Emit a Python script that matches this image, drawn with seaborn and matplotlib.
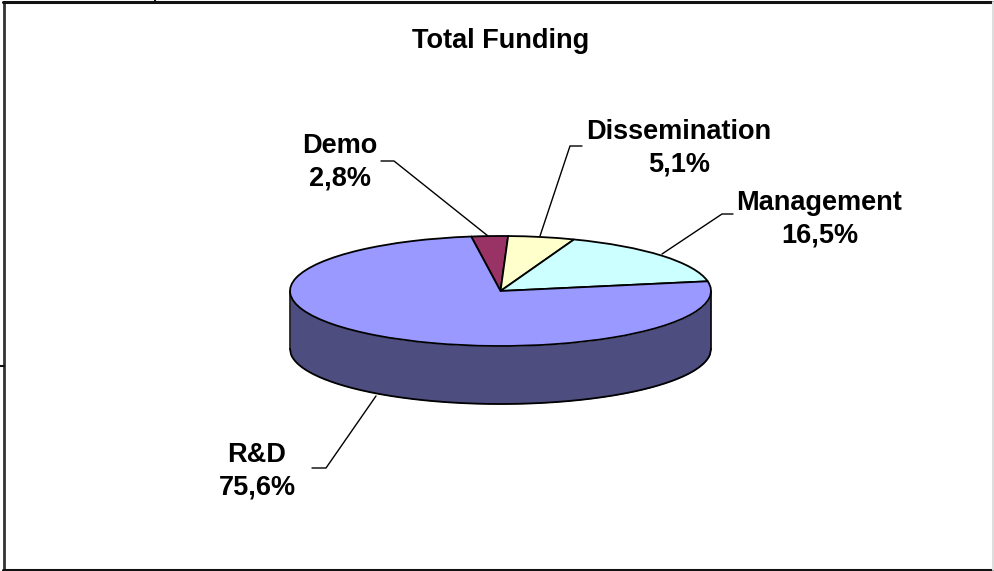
import numpy as np
import matplotlib
matplotlib.use('Agg')
import matplotlib.pyplot as plt
import seaborn as sns

categories = ['Demo', 'Dissemination', 'Management', 'R&D']
values = [2.8, 5.1, 16.5, 75.6]
value_labels = ['2,8%', '5,1%', '16,5%', '75,6%']
colors = ['#993366', '#FFFFCC', '#CCFFFF', '#9999FF']
side_color = '#4D4D80'
title = 'Total Funding'

sns.set_theme(style='white')
plt.rcParams['font.family'] = ['Liberation Sans', 'DejaVu Sans']

W, H = 994, 571
fig = plt.figure(figsize=(W / 100, H / 100), dpi=100, facecolor='white')
ax = fig.add_axes([0, 0, 1, 1])

# ellipse of the pie in pixels
cx, cy, rx, ry, depth = 500.5, 291, 210.5, 55, 58

def px(x, y):
    return (x - cx) / rx, (cy - y) / ry

# side of the disc
xs = np.linspace(-1, 1, 400)
top_edge = -np.sqrt(1 - xs ** 2)
d = depth / ry
ax.fill_between(xs, top_edge, top_edge - d, color=side_color, lw=0, zorder=1)
ax.plot(xs, top_edge - d, color='black', lw=1.3, zorder=2)
ax.plot([-1, -1], [0, -d], color='black', lw=1.1, zorder=2)
ax.plot([1, 1], [0, -d], color='black', lw=1.1, zorder=2)

# top of the disc
ax.pie(values, colors=colors, startangle=98, counterclock=False, radius=1,
       wedgeprops={'edgecolor': 'black', 'linewidth': 1.3, 'zorder': 3})
ax.set_aspect('auto')
ax.set_xlim(px(0, 0)[0], px(W, 0)[0])
ax.set_ylim(px(0, H)[1], px(0, 0)[1])
ax.set_frame_on(False)
ax.set_xticks([])
ax.set_yticks([])

# leader lines
leaders = [
    [(488, 236), (394, 161), (381, 161)],
    [(540, 236), (570, 146), (582, 146)],
    [(662, 254), (722, 214), (733, 214)],
    [(376, 396), (326, 468), (312, 468)],
]
for pts in leaders:
    line = np.array([px(x, y) for x, y in pts])
    ax.plot(line[:, 0], line[:, 1], color='black', lw=1.0, zorder=2)

# labels
label_pos = [(340, 162.5), (679, 148), (819.5, 219), (257, 471.5)]
for name, val, (x, y) in zip(categories, value_labels, label_pos):
    tx, ty = px(x, y)
    ax.text(tx, ty, name + '\n' + val, ha='center', va='center', fontsize=19.5,
            fontweight='bold', color='black', linespacing=1.34, zorder=5)

tx, ty = px(500.5, 41)
ax.text(tx, ty, title, ha='center', va='center', fontsize=19.5,
        fontweight='bold', color='black')

# frame of the picture
frame = [
    ([4, 4], [2, 570], 2.0, '#333333'),
    ([3, 994], [2, 2], 2.2, '#111111'),
    ([3, 994], [570, 570], 2.2, '#111111'),
    ([993.5, 993.5], [2, 570], 1.5, '#DDDDDD'),
    ([155, 155], [0, 2], 1.5, '#111111'),
    ([0, 4], [366, 366], 1.5, '#111111'),
]
for fx, fy, lw, c in frame:
    a = px(fx[0], fy[0])
    b = px(fx[1], fy[1])
    ax.plot([a[0], b[0]], [a[1], b[1]], color=c, lw=lw, zorder=6, clip_on=True)

fig.savefig('out.png', dpi=100, facecolor='white')
